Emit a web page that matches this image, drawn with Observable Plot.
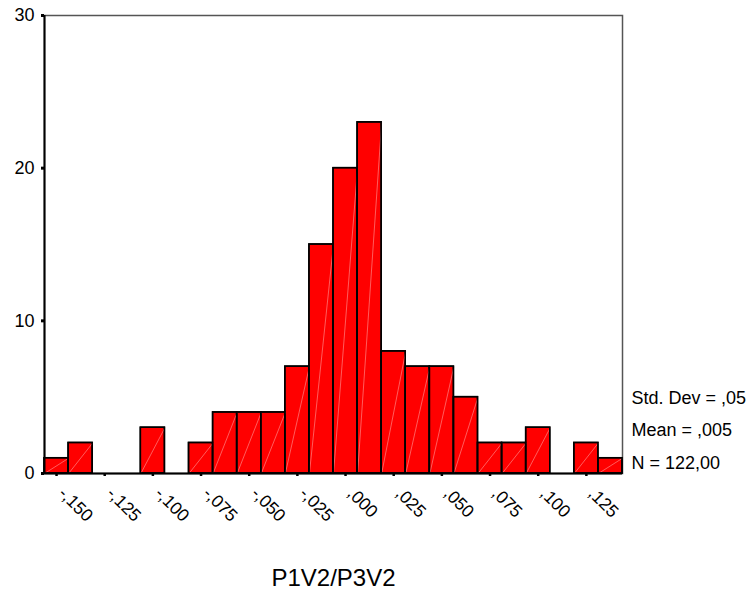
<!DOCTYPE html>
<html>
<head>
<meta charset="utf-8">
<script src="https://cdn.jsdelivr.net/npm/d3@7"></script>
<script src="https://cdn.jsdelivr.net/npm/@observablehq/plot@0.6"></script>
<style>
  html, body { margin: 0; padding: 0; background: #fff; }
  svg { display: block; }
</style>
</head>
<body>
<div id="chart"></div>
<script>
// Bin centers (width 0.0125) and frequencies
const binCenters = [-0.150, -0.1375, -0.125, -0.1125, -0.100, -0.0875, -0.075, -0.0625,
  -0.050, -0.0375, -0.025, -0.0125, 0.000, 0.0125, 0.025, 0.0375,
  0.050, 0.0625, 0.075, 0.0875, 0.100, 0.1125, 0.125, 0.1375];
const counts = [1, 2, 0, 0, 3, 0, 2, 4, 4, 4, 7, 15, 20, 23, 8, 7, 7, 5, 2, 2, 3, 0, 2, 1];
const binWidth = 0.0125;

const xTicks = [-0.150, -0.125, -0.100, -0.075, -0.050, -0.025, 0.000, 0.025, 0.050, 0.075, 0.100, 0.125];
const xTickLabels = ["-,150", "-,125", "-,100", "-,075", "-,050", "-,025", ",000", ",025", ",050", ",075", ",100", ",125"];
const yTicks = [0, 10, 20, 30];
const statsLabels = ["Std. Dev = ,05", "Mean = ,005", "N = 122,00"];
const axisTitle = "P1V2/P3V2";

const bins = binCenters.map((c, i) => ({x1: c - binWidth / 2, x2: c + binWidth / 2, count: counts[i]}));
const nonEmpty = bins.filter(d => d.count > 0);
const xMin = bins[0].x1, xMax = bins[bins.length - 1].x2;

const font = "'Liberation Sans', Arial, Helvetica, sans-serif";

const chart = Plot.plot({
  width: 755,
  height: 592,
  marginLeft: 44,
  marginRight: 133,
  marginTop: 15,
  marginBottom: 119,
  style: {fontFamily: font, background: "#fff", color: "#000"},
  x: {domain: [xMin, xMax]},
  y: {domain: [0, 30]},
  marks: [
    Plot.frame({stroke: "#555", strokeWidth: 1.5}),
    Plot.rectY(nonEmpty, {x1: "x1", x2: "x2", y: "count", fill: "#ff0000", stroke: "#000", strokeWidth: 1.5}),
    Plot.link(nonEmpty, {x1: "x1", y1: () => 0, x2: "x2", y2: "count", stroke: "#ff9a9a", strokeWidth: 0.6}),
    Plot.rectY(nonEmpty, {x1: "x1", x2: "x2", y: "count", fill: "none", stroke: "#000", strokeWidth: 1.5}),
    Plot.ruleX([xMin], {stroke: "#000", strokeWidth: 2}),
    Plot.ruleY([0], {stroke: "#000", strokeWidth: 2}),
    Plot.axisY({ticks: yTicks, tickSize: 3, tickPadding: 7, strokeWidth: 3, fontSize: 18, label: null, tickFormat: d => String(d)}),
    Plot.axisX({ticks: xTicks, tickSize: 3, label: null, strokeWidth: 2.5, text: null, tickFormat: () => ""}),
    Plot.axisX({ticks: xTicks, tickSize: 0, tickPadding: 17, fontSize: 17.5, label: null, tickRotate: 45, dx: 5,
      tickFormat: d => xTickLabels[xTicks.findIndex(t => Math.abs(t - d) < 1e-9)]}),
    Plot.text([statsLabels.join("\n")], {frameAnchor: "bottom-right", textAnchor: "start", lineAnchor: "bottom",
      dx: 9, dy: -5, fontSize: 18, lineHeight: 1.78, fill: "#000"}),
    Plot.text([axisTitle], {frameAnchor: "bottom", lineAnchor: "middle", dy: 105, fontSize: 24, fill: "#000"})
  ]
});
document.getElementById("chart").appendChild(chart);
</script>
</body>
</html>
